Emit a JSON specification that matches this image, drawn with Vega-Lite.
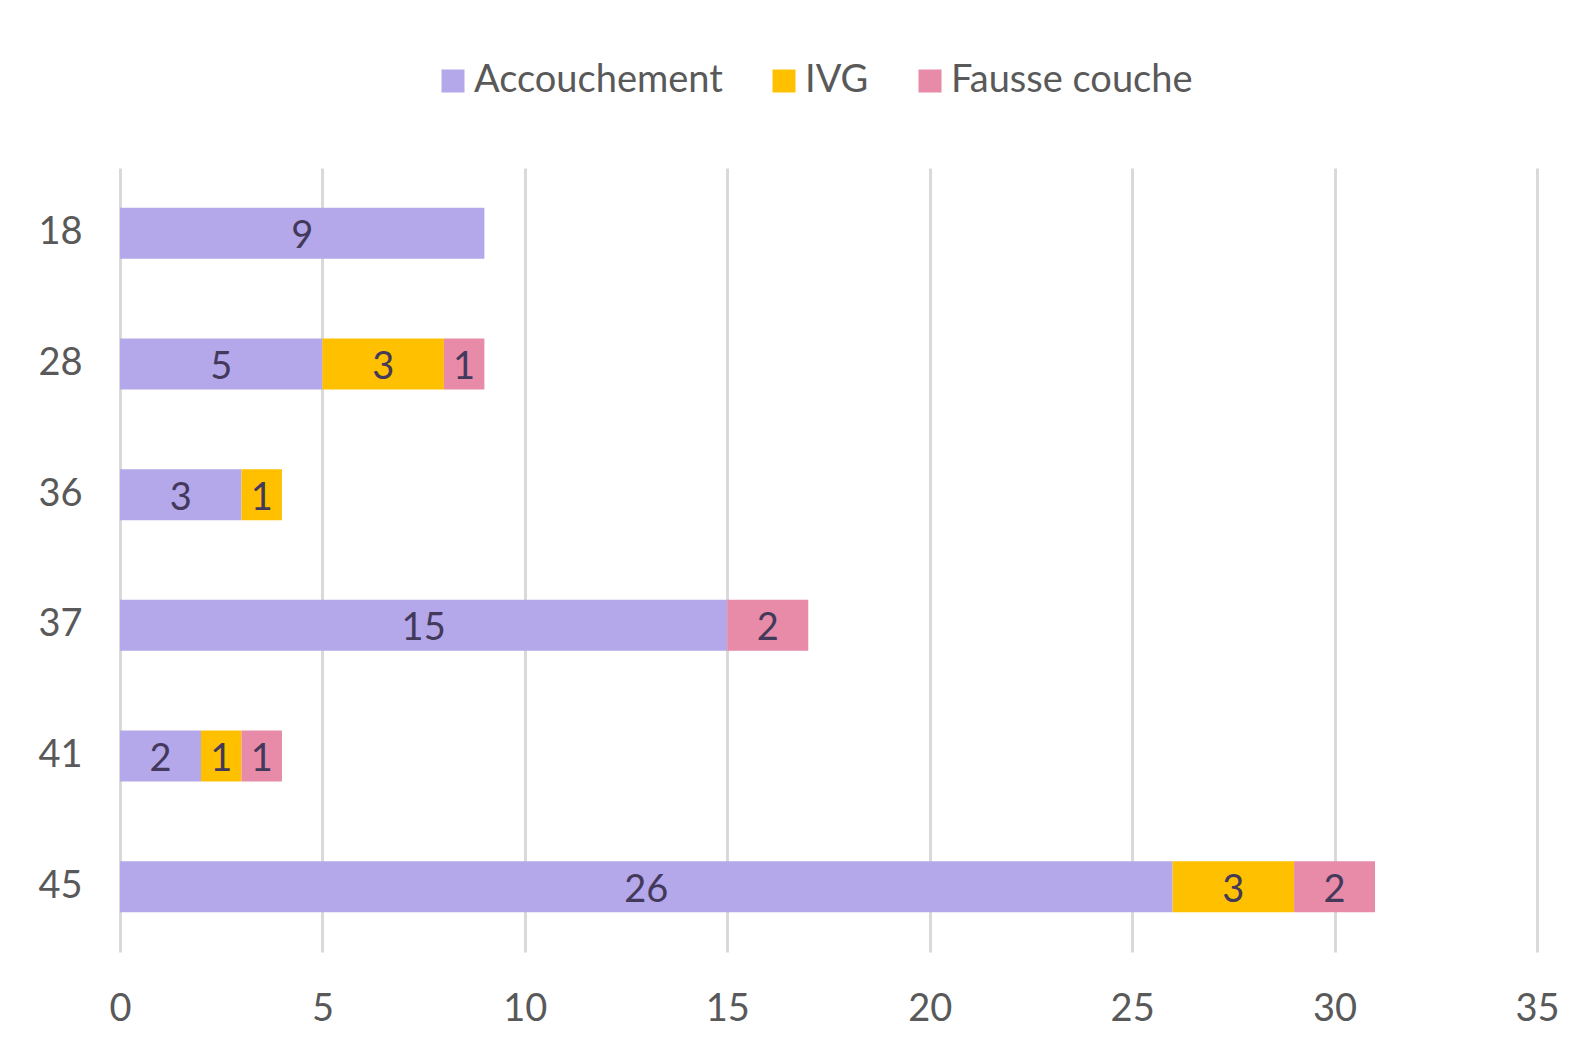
{
  "$schema": "https://vega.github.io/schema/vega-lite/v6.json",
  "autosize": {"type": "none"},
  "width": 1417,
  "height": 784,
  "padding": {"left": 120, "top": 168, "right": 59, "bottom": 106},
  "background": "#ffffff",
  "config": {
    "font": "Lato",
    "view": {"stroke": null},
    "axis": {"labelFont": "Lato", "labelColor": "#595959", "labelFontSize": 38, "domain": false, "ticks": false, "title": null},
    "legend": {"labelFont": "Lato", "labelColor": "#595959", "labelFontSize": 38, "labelLimit": 0}
  },
  "data": {
    "values": [
      {"age": "18", "type": "Accouchement", "n": 9},
      {"age": "28", "type": "Accouchement", "n": 5},
      {"age": "28", "type": "IVG", "n": 3},
      {"age": "28", "type": "Fausse couche", "n": 1},
      {"age": "36", "type": "Accouchement", "n": 3},
      {"age": "36", "type": "IVG", "n": 1},
      {"age": "37", "type": "Accouchement", "n": 15},
      {"age": "37", "type": "Fausse couche", "n": 2},
      {"age": "41", "type": "Accouchement", "n": 2},
      {"age": "41", "type": "IVG", "n": 1},
      {"age": "41", "type": "Fausse couche", "n": 1},
      {"age": "45", "type": "Accouchement", "n": 26},
      {"age": "45", "type": "IVG", "n": 3},
      {"age": "45", "type": "Fausse couche", "n": 2}
    ]
  },
  "transform": [
    {"stack": "n", "groupby": ["age"], "sort": [{"field": "n", "order": "descending"}, {"field": "type", "order": "descending"}], "as": ["x0", "x1"]}
  ],
  "encoding": {
    "y": {"field": "age", "type": "nominal", "sort": "ascending",
      "scale": {"paddingInner": 0.61, "paddingOuter": 0.305},
      "axis": {"labelPadding": 38, "grid": false}}
  },
  "layer": [
    {
      "mark": {"type": "bar"},
      "encoding": {
        "x": {"field": "x0", "type": "quantitative",
          "scale": {"domain": [0, 35], "nice": false},
          "axis": {"values": [0, 5, 10, 15, 20, 25, 30, 35], "grid": true, "gridColor": "#D9D9D9", "gridWidth": 3, "labelPadding": 38, "labelFlush": false}},
        "x2": {"field": "x1"},
        "color": {"field": "type", "type": "nominal",
          "scale": {"domain": ["Accouchement", "IVG", "Fausse couche"], "range": ["#B4A7EA", "#FFC000", "#E78BA8"]},
          "legend": {"orient": "none", "legendX": 314, "legendY": -106, "direction": "horizontal", "title": null, "symbolType": "square", "symbolSize": 529, "symbolStrokeWidth": 0, "columnPadding": 42, "labelOffset": 2}
        }
      }
    },
    {
      "transform": [
        {"fold": ["x0", "x1"], "as": ["edge", "pos"]}
      ],
      "mark": {"type": "text", "fontSize": 38, "color": "#43395A", "baseline": "middle", "align": "center", "dy": 4},
      "encoding": {
        "x": {"field": "pos", "type": "quantitative", "aggregate": "mean"},
        "detail": {"field": "type", "type": "nominal"},
        "text": {"field": "n", "type": "quantitative"}
      }
    }
  ]
}
